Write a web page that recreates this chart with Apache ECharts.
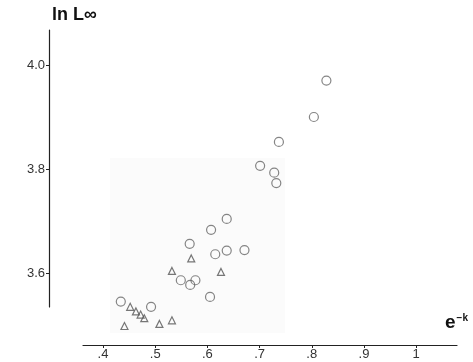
<!DOCTYPE html>
<html>
<head>
<meta charset="utf-8">
<script src="https://cdn.jsdelivr.net/npm/echarts@6/dist/echarts.min.js"></script>
<style>html,body{margin:0;padding:0;background:#fff}#c{width:473px;height:362px}</style>
</head>
<body>
<div id="c"></div>
<script>
// Circles: [e^-k, ln Linf]
const circleX = [0.434, 0.492, 0.549, 0.567, 0.577, 0.605, 0.566, 0.607, 0.637, 0.615, 0.637, 0.671, 0.701, 0.728, 0.732, 0.737, 0.804, 0.828];
const circleY = [3.545, 3.535, 3.586, 3.577, 3.586, 3.554, 3.656, 3.683, 3.704, 3.636, 3.643, 3.644, 3.806, 3.793, 3.773, 3.852, 3.900, 3.970];
// Triangles
const triX = [0.441, 0.452, 0.463, 0.472, 0.479, 0.508, 0.532, 0.532, 0.569, 0.626];
const triY = [3.498, 3.535, 3.526, 3.520, 3.513, 3.502, 3.509, 3.604, 3.628, 3.602];
const xTicks = [0.4, 0.5, 0.6, 0.7, 0.8, 0.9, 1.0];
const xTickLabels = ['.4', '.5', '.6', '.7', '.8', '.9', '1'];
const yTicks = [3.6, 3.8, 4.0];
const yTickLabels = ['3.6', '3.8', '4.0'];

const circles = circleX.map((x, i) => [x, circleY[i]]);
const tris = triX.map((x, i) => [x, triY[i]]);

const chart = echarts.init(document.getElementById('c'), null, {renderer: 'canvas'});
const labelFont = {fontFamily: 'Liberation Sans, Arial, sans-serif', fontSize: 13, color: '#333'};
chart.setOption({
  animation: false,
  backgroundColor: '#fff',
  grid: [
    {left: 49, right: 16, top: 30, bottom: 17},   // data grid
    {left: 83, right: 16, top: 30, bottom: 17},   // x axis line
    {left: 49, right: 16, top: 30, bottom: 55}    // y axis line
  ],
  xAxis: [
    {gridIndex: 0, type: 'value', min: 0.2964, max: 1.0783, show: false},
    {gridIndex: 1, type: 'value', min: 0.3616, max: 1.0783,
      axisLine: {show: true, lineStyle: {color: '#222', width: 1.2}},
      axisTick: {show: true, inside: false, length: 3, customValues: xTicks, lineStyle: {color: '#222'}},
      axisLabel: Object.assign({customValues: xTicks, margin: 3,
        formatter: v => xTickLabels[xTicks.findIndex(t => Math.abs(t - v) < 1e-6)] || ''}, labelFont),
      splitLine: {show: false}},
    {gridIndex: 2, type: 'value', min: 0, max: 1, show: false}
  ],
  yAxis: [
    {gridIndex: 0, type: 'value', min: 3.4615, max: 4.0673, show: false},
    {gridIndex: 1, type: 'value', min: 0, max: 1, show: false},
    {gridIndex: 2, type: 'value', min: 3.5346, max: 4.0673,
      axisLine: {show: true, lineStyle: {color: '#222', width: 1.2}},
      axisTick: {show: true, length: 3, customValues: yTicks, lineStyle: {color: '#222'}},
      axisLabel: Object.assign({customValues: yTicks, margin: 4,
        formatter: v => yTickLabels[yTicks.findIndex(t => Math.abs(t - v) < 1e-6)] || ''}, labelFont),
      splitLine: {show: false}}
  ],
  graphic: [
    {type: 'rect', z: -10, shape: {x: 110, y: 158, width: 175, height: 175}, style: {fill: '#fbfbfb'}},
    {type: 'text', left: 52, top: 6, style: {text: 'ln L∞', font: 'bold 18px Liberation Sans, Arial, sans-serif', fill: '#111'}},
    {type: 'text', left: 445, top: 313, style: {
      text: '{e|e}{s|−k}',
      rich: {
        e: {font: 'bold 19px Liberation Sans, Arial, sans-serif', fill: '#111', verticalAlign: 'bottom'},
        s: {font: 'bold 10px Liberation Sans, Arial, sans-serif', fill: '#111', verticalAlign: 'top', padding: [0, 0, 9, 1]}
      }}}
  ],
  series: [
    {type: 'scatter', xAxisIndex: 0, yAxisIndex: 0, data: circles, symbol: 'circle', symbolSize: 9,
      itemStyle: {color: 'rgba(255,255,255,0)', borderColor: '#666', borderWidth: 1.2}},
    {type: 'scatter', xAxisIndex: 0, yAxisIndex: 0, data: tris, symbol: 'triangle', symbolSize: 7,
      itemStyle: {color: 'rgba(255,255,255,0)', borderColor: '#555', borderWidth: 1.2}}
  ]
});
</script>
</body>
</html>
